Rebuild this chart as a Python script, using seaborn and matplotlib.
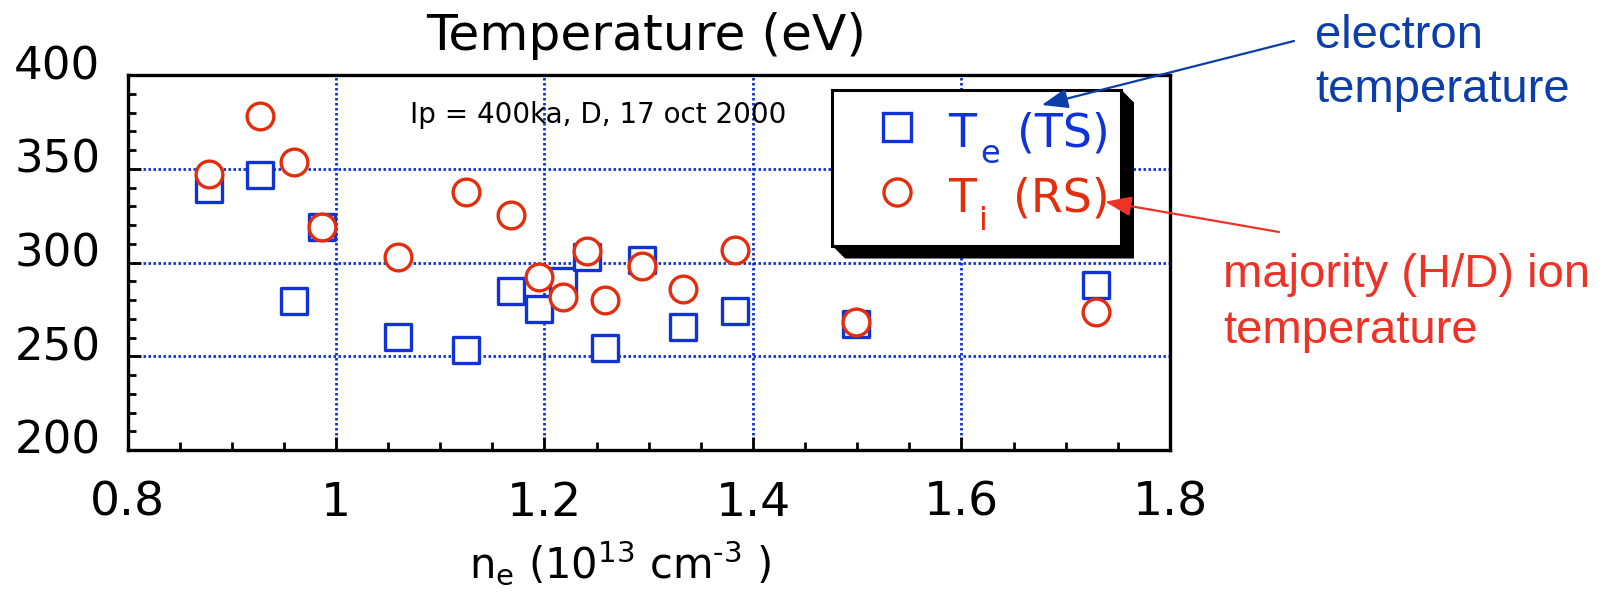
import numpy as np
import pandas as pd
import matplotlib
matplotlib.use("Agg")
import matplotlib.pyplot as plt
from matplotlib.lines import Line2D
from matplotlib.patches import Polygon, Rectangle, FancyArrowPatch
from matplotlib.transforms import Affine2D, ScaledTranslation
import seaborn as sns

# Line-averaged electron density (10^13 cm^-3) for each shot
ne = [0.878, 0.927, 0.960, 0.987, 1.059, 1.125, 1.168, 1.195,
      1.218, 1.241, 1.258, 1.294, 1.333, 1.383, 1.499, 1.729]
# Electron temperature from Thomson scattering (eV)
te_ts = [339.0, 346.5, 279.5, 318.8, 260.4, 253.3, 284.6, 275.0,
         290.0, 303.0, 254.5, 301.5, 265.6, 274.4, 267.4, 288.1]
# Majority ion temperature from Rutherford scattering (eV)
ti_rs = [347.0, 378.0, 353.5, 318.7, 302.8, 337.6, 325.3, 292.2,
         281.8, 306.2, 280.0, 298.2, 286.0, 306.5, 268.5, 273.8]

x_ticks = [0.8, 1.0, 1.2, 1.4, 1.6, 1.8]
x_tick_labels = ["0.8", "1", "1.2", "1.4", "1.6", "1.8"]
y_ticks = [200, 250, 300, 350, 400]
y_tick_labels = ["200", "250", "300", "350", "400"]

BLUE = "#0f33d9"
RED = "#e42d0c"
NOTE_BLUE = "#0b3ea8"
NOTE_RED = "#ee3226"

sns.set_style("white")
plt.rcParams["font.family"] = ["DejaVu Sans"]

W, H = 1617, 593
fig = plt.figure(figsize=(W / 100, H / 100), dpi=100)
# pixel coordinates measured from the top-left corner of the figure
pix = Affine2D().scale(1 / W, -1 / H).translate(0, 1) + fig.transFigure

ax_l, ax_r, ax_t, ax_b = 127.5, 1170, 75, 450
ax = fig.add_axes([ax_l / W, 1 - ax_b / H, (ax_r - ax_l) / W, (ax_b - ax_t) / H])

df = pd.DataFrame({"ne": ne, "Te": te_ts, "Ti": ti_rs})
sns.scatterplot(data=df, x="ne", y="Te", marker="s", s=370,
                facecolor="white", edgecolor=BLUE, linewidth=2.4,
                zorder=3, ax=ax, legend=False)
sns.scatterplot(data=df, x="ne", y="Ti", marker="o", s=370,
                facecolor="white", edgecolor=RED, linewidth=2.4,
                zorder=4, ax=ax, legend=False)

ax.set_xlim(0.8, 1.8)
ax.set_ylim(200, 400)
ax.set_xticks(x_ticks)
ax.set_xticklabels(x_tick_labels)
ax.set_yticks(y_ticks)
ax.set_yticklabels(y_tick_labels)
ax.set_xticks(np.arange(0.8, 1.8001, 0.05), minor=True)
ax.set_yticks(np.arange(200, 400.1, 10), minor=True)
ax.set_xlabel("")
ax.set_ylabel("")

ax.set_axisbelow(True)
ax.grid(True, which="major", color=BLUE, linestyle=(0, (0.9, 0.9)), linewidth=2.0)
ax.grid(False, which="minor")

for sp in ax.spines.values():
    sp.set_visible(True)
    sp.set_color("black")
    sp.set_linewidth(2.4)

ax.tick_params(which="both", direction="in", top=False, right=False,
               left=True, bottom=True, color="black", width=2.0,
               labelcolor="black")
ax.tick_params(which="major", length=9.5)
ax.tick_params(which="minor", length=5.5)
ax.tick_params(axis="x", which="major", labelsize=34, pad=22)
ax.tick_params(axis="y", which="major", labelsize=32.5, pad=19.5)

lift = ScaledTranslation(0, 0.13, fig.dpi_scale_trans)
for lbl in ax.get_yticklabels():
    lbl.set_transform(lbl.get_transform() + lift)

# Title, axis label and run information
fig.text(646, 50, "Temperature (eV)", transform=pix, ha="center", va="baseline",
         fontsize=36.3, color="black")
fig.text(620, 578, "n$_\\mathregular{e}$ (10$^\\mathregular{13}$ cm$^\\mathregular{\u20103}$ )",
         transform=pix, ha="center", va="baseline", fontsize=30, color="black")
fig.text(410, 122.7, "Ip = 400ka, D, 17 oct 2000", transform=pix, ha="left",
         va="baseline", fontsize=20, color="black")

# Legend box with a bevelled drop shadow
bl, bt, br, bb = 832, 89.5, 1121, 245.5
dx, dy = 13, 13
fig.add_artist(Polygon([(br, bt), (br + dx, bt + dy), (br + dx, bb + dy),
                        (bl + dx, bb + dy), (bl, bb)], closed=True,
                       fc="black", ec="none", transform=pix, zorder=5))
fig.add_artist(Rectangle((bl, bt), br - bl, bb - bt, fc="white", ec="black",
                         lw=2.2, transform=pix, zorder=6))
fig.add_artist(Line2D([897], [126.7], marker="s", markersize=19.5, mfc="white",
                      mec=BLUE, mew=2.4, transform=pix, zorder=7))
fig.add_artist(Line2D([897], [191.7], marker="o", markersize=19.5, mfc="white",
                      mec=RED, mew=2.4, transform=pix, zorder=7))
for (x, y, s, fs, c) in [(948, 146.7, "T", 33, BLUE), (980, 163, "e", 23, BLUE),
                         (1016.7, 146.7, "(TS)", 33, BLUE),
                         (948, 211.7, "T", 33, RED), (979, 230, "i", 23, RED),
                         (1013, 211.7, "(RS)", 33, RED)]:
    fig.text(x, y, s, transform=pix, ha="left", va="baseline", fontsize=fs,
             color=c, zorder=8)

# Callouts
for (x, y, s, c) in [(1315, 48.3, "electron", NOTE_BLUE),
                     (1315, 101.7, "temperature", NOTE_BLUE),
                     (1223, 287, "majority (H/D) ion", NOTE_RED),
                     (1223, 343.3, "temperature", NOTE_RED)]:
    fig.text(x, y, s, transform=pix, ha="left", va="baseline", fontsize=34,
             family=["Liberation Sans"], color=c)

for (a, b, c) in [((1294, 41), (1041.7, 105), NOTE_BLUE),
                  ((1279, 232), (1105, 201.7), NOTE_RED)]:
    fig.add_artist(FancyArrowPatch(posA=a, posB=b, transform=pix,
                                   arrowstyle="-|>,head_length=0.8,head_width=0.3",
                                   mutation_scale=20, lw=1.6, color=c,
                                   shrinkA=0, shrinkB=0, zorder=9))

fig.savefig("out.png", dpi=100)
